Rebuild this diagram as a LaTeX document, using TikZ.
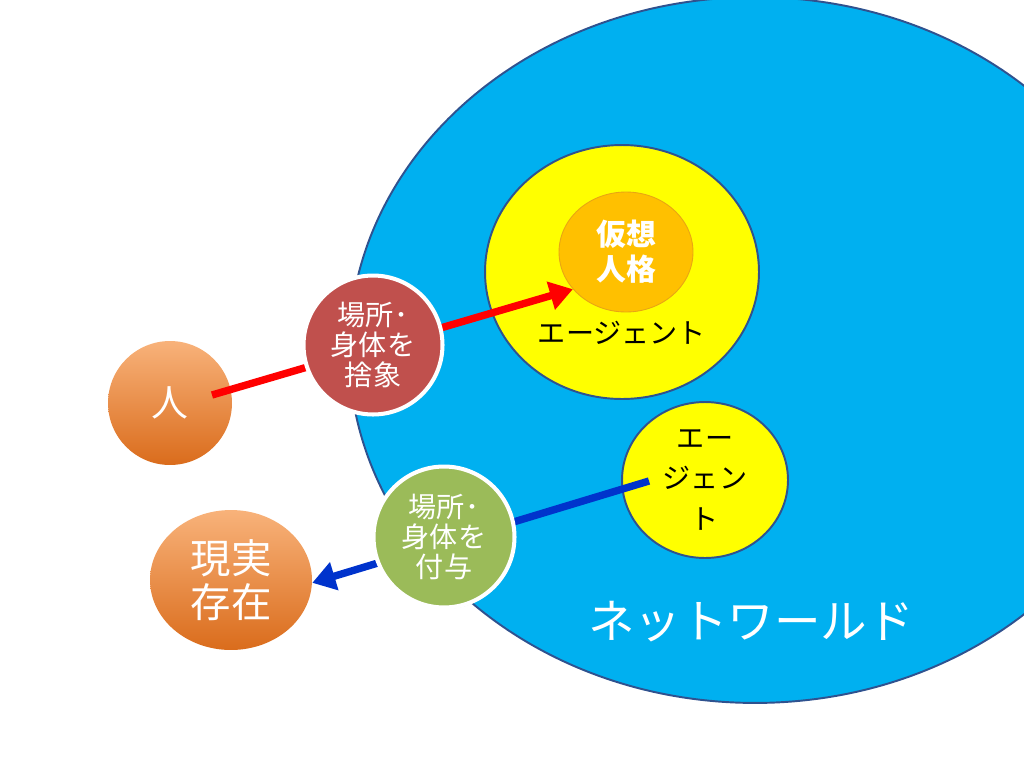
\documentclass[tikz,border=0pt]{standalone}
\usepackage{fontspec}
\newfontfamily\jpfont{Noto Sans CJK JP}
\usetikzlibrary{arrows.meta,shapes.geometric,shadows}
\definecolor{netblue}{RGB}{0,176,240}
\definecolor{rimblue}{RGB}{47,82,143}
\definecolor{agentyellow}{RGB}{255,255,0}
\definecolor{virtorange}{RGB}{255,192,0}
\definecolor{virtrim}{RGB}{232,165,20}
\definecolor{abstrred}{RGB}{192,80,77}
\definecolor{grantgreen}{RGB}{155,187,89}
\definecolor{arrowblue}{RGB}{0,51,204}
\definecolor{lightorange}{RGB}{248,178,122}
\definecolor{darkorange}{RGB}{218,108,28}

\begin{document}
\begin{tikzpicture}[x=0.02cm, y=-0.02cm, every node/.style={font=\jpfont, inner sep=0pt, align=center},
	blob/.style={ellipse, draw=rimblue, line width=1.1pt},
	bead/.style={circle, draw=white, line width=2.3pt, text=white, font=\jpfont\fontsize{16}{17}\selectfont, drop shadow={opacity=0.3, shadow xshift=0.6pt, shadow yshift=-0.8pt}},
	ball/.style={ellipse, top color=lightorange, bottom color=darkorange, text=white},
	link/.style={line width=4.2pt, -{Triangle[length=0.46cm, width=0.56cm]}}]
	\useasboundingbox (0,0) rectangle (1024,768);
	\begin{scope}
		\clip (0,0) rectangle (1024,768);
		\node[blob, fill=netblue, minimum width=16.24cm, minimum height=14.12cm] (net) at (755,350) {};
	\end{scope}
	\node[blob, fill=agentyellow, minimum width=5.48cm, minimum height=5.08cm] (agent) at (622,272) {};
	\node[ellipse, fill=virtorange, draw=virtrim, line width=0.5pt, minimum width=2.68cm, minimum height=2.40cm, text=white, font=\jpfont\bfseries\fontsize{17}{20}\selectfont] (virt) at (626,252) {仮想\\人格};
	\node[font=\jpfont\fontsize{16}{18}\selectfont] (agentlabel) at (622,333) {エージェント};
	\node[blob, fill=agentyellow, minimum width=3.32cm, minimum height=3.12cm, font=\jpfont\fontsize{16}{23}\selectfont] (agent2) at (705,480) {エー\\ジェン\\ト};
	\node[text=white, font=\jpfont\fontsize{26.5}{28}\selectfont] (netlabel) at (751,622) {ネットワールド};
	\node[ball, circle, minimum size=2.48cm, font=\jpfont\fontsize{21}{24}\selectfont] (person) at (170,403) {人};
	\node[ball, minimum width=3.24cm, minimum height=2.80cm, font=\jpfont\fontsize{23}{25}\selectfont] (real) at (231,580) {現実\\存在};
	\coordinate (redstart) at (212,395);
	\coordinate (bluestart) at (649,481);
	\draw[link, red] (redstart) -- (virt.-145);
	\draw[link, arrowblue] (bluestart) -- (real.-2);
	\node[bead, fill=abstrred, minimum size=2.78cm] (abstr) at (373,345) {場所･\\身体を\\捨象};
	\node[bead, fill=grantgreen, minimum size=2.82cm] (grant) at (444,537) {場所･\\身体を\\付与};
\end{tikzpicture}
\end{document}
